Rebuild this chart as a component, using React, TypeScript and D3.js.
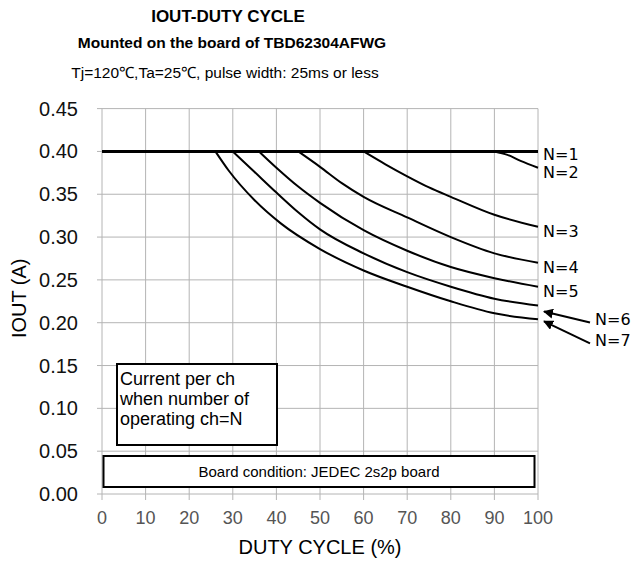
// App.tsx - IOUT vs DUTY CYCLE chart (TBD62304AFWG)

// react
import React from 'react';

// modules
import * as d3 from 'd3';

// data
const xTicks = [0, 10, 20, 30, 40, 50, 60, 70, 80, 90, 100];
const yTicks = [0, 0.05, 0.1, 0.15, 0.2, 0.25, 0.3, 0.35, 0.4, 0.45];

const seriesNames = ['N=1', 'N=2', 'N=3', 'N=4', 'N=5', 'N=6', 'N=7'];
const dutyN1 = [0, 100];
const ioutN1 = [0.4, 0.4];
const dutyN2 = [90, 93, 96, 100];
const ioutN2 = [0.4, 0.396, 0.389, 0.381];
const dutyN3 = [60, 65, 70, 75, 80, 90, 100];
const ioutN3 = [0.4, 0.385, 0.371, 0.358, 0.347, 0.326, 0.312];
const dutyN4 = [45, 50, 55, 60, 70, 80, 90, 100];
const ioutN4 = [0.4, 0.382, 0.363, 0.347, 0.323, 0.3, 0.281, 0.27];
const dutyN5 = [36, 40, 45, 50, 60, 70, 80, 90, 100];
const ioutN5 = [0.4, 0.381, 0.359, 0.34, 0.308, 0.284, 0.265, 0.252, 0.242];
const dutyN6 = [30, 35, 40, 45, 50, 60, 70, 80, 90, 100];
const ioutN6 = [0.4, 0.376, 0.352, 0.329, 0.309, 0.281, 0.259, 0.242, 0.228, 0.22];
const dutyN7 = [26, 29, 35, 41, 50, 60, 70, 80, 90, 100];
const ioutN7 = [0.4, 0.378, 0.343, 0.316, 0.286, 0.261, 0.242, 0.225, 0.211, 0.204];

const dutyArr = [dutyN1, dutyN2, dutyN3, dutyN4, dutyN5, dutyN6, dutyN7];
const ioutArr = [ioutN1, ioutN2, ioutN3, ioutN4, ioutN5, ioutN6, ioutN7];

const titleLines = ['IOUT-DUTY  CYCLE', 'Mounted on the board of TBD62304AFWG'];
const subTitle = 'Tj=120\u2103,Ta=25\u2103, pulse width: 25ms or less';
const noteLines = ['Current per ch', 'when number of', 'operating ch=N'];
const boardNote = 'Board condition: JEDEC 2s2p board';

const arial = '"Liberation Sans", Arial, sans-serif';
const dejavu = '"DejaVu Sans", Verdana, sans-serif';

// start
export default function App() {
    // scales
    const xScale = d3.scaleLinear().domain([0, 100]).range([102, 538]);
    const yScale = d3.scaleLinear().domain([0, 0.45]).range([494, 108.6]);

    const lineGen = d3.line<[number, number]>()
        .x((d) => xScale(d[0]))
        .y((d) => yScale(d[1]))
        .curve(d3.curveMonotoneX);

    const seriesData = seriesNames.map((name, i) => {
        return {name, pts: dutyArr[i].map((x, j) => [x, ioutArr[i][j]] as [number, number])};
    });

    const xMax = xScale(100);

    return (
        <div>
            <style>{`body{margin:0}`}</style>
            <svg width={636} height={562} style={{display: 'block', background: '#fff'}}>
                <defs>
                    <marker id="arrowHead" viewBox="0 0 10 10" refX={9} refY={5}
                        markerWidth={5} markerHeight={5} orient="auto">
                        <path d="M0,0 L10,5 L0,10 z" fill="#000" />
                    </marker>
                </defs>

                {/* titles */}
                <text x={228} y={22} textAnchor="middle" fontFamily={arial} fontWeight="bold" fontSize={17}>{titleLines[0]}</text>
                <text x={232} y={48} textAnchor="middle" fontFamily={arial} fontWeight="bold" fontSize={15.5}>{titleLines[1]}</text>
                <text x={225} y={78} textAnchor="middle" fontFamily={arial} fontSize={15.5}>{subTitle}</text>

                {/* grid */}
                <g stroke="#b4b4b4" strokeWidth={1}>
                    {yTicks.map((t) => (
                        <line key={'h' + t} x1={xScale(0) - 5} x2={xMax} y1={yScale(t)} y2={yScale(t)} />
                    ))}
                    {xTicks.map((t) => (
                        <line key={'v' + t} x1={xScale(t)} x2={xScale(t)} y1={yScale(0.45)} y2={yScale(0) + 6} />
                    ))}
                </g>

                {/* y tick labels */}
                {yTicks.map((t) => (
                    <text key={'yl' + t} x={78} y={yScale(t)} dy="0.35em" textAnchor="end"
                        fontFamily={arial} fontSize={20} fill="#111">{t.toFixed(2)}</text>
                ))}
                {/* x tick labels */}
                {xTicks.map((t) => (
                    <text key={'xl' + t} x={xScale(t)} y={524} textAnchor="middle"
                        fontFamily={arial} fontSize={18} fill="#555">{t}</text>
                ))}

                {/* axis titles */}
                <text transform={`translate(26,${(yScale(0) + yScale(0.45)) / 2 - 3}) rotate(-90)`} textAnchor="middle"
                    fontFamily={arial} fontSize={20}>IOUT (A)</text>
                <text x={320} y={554} textAnchor="middle" fontFamily={arial} fontSize={20}>DUTY CYCLE (%)</text>

                {/* note boxes */}
                <rect x={117} y={364} width={160} height={81} fill="#fff" stroke="#000" strokeWidth={2} />
                {noteLines.map((s, i) => (
                    <text key={s} x={120} y={385 + i * 20} fontFamily={arial} fontSize={18}>{s}</text>
                ))}
                <rect x={103.5} y={456} width={431} height={31} fill="#fff" stroke="#000" strokeWidth={2} />
                <text x={319} y={477} textAnchor="middle" fontFamily={arial} fontSize={15}>{boardNote}</text>

                {/* curves */}
                {seriesData.map((s, i) => (
                    <path key={s.name} d={lineGen(s.pts) || ''} fill="none" stroke="#000"
                        strokeWidth={i === 0 ? 3 : 2} strokeLinejoin="round" />
                ))}

                {/* labels N=1..N=5 at curve ends */}
                {seriesData.slice(0, 5).map((s, i) => (
                    <text key={'lb' + s.name} x={xMax + 5} y={yScale(s.pts[s.pts.length - 1][1]) + (i === 0 ? 3 : 5)} dy="0.35em"
                        fontFamily={dejavu} fontSize={16}>{s.name}</text>
                ))}

                {/* labels N=6, N=7 with arrows */}
                {seriesData.slice(5).map((s, i) => {
                    const endY = yScale(s.pts[s.pts.length - 1][1]);
                    const tipY = endY + (i === 0 ? 6 : 2);
                    const tailY = endY + (i === 0 ? 17 : 24);
                    return (
                        <g key={'ar' + s.name}>
                            <line x1={xMax + 52} y1={tailY} x2={xMax + 6} y2={tipY} stroke="#000" strokeWidth={2}
                                markerEnd="url(#arrowHead)" />
                            <text x={xMax + 57} y={tailY - 3} dy="0.35em" fontFamily={dejavu} fontSize={16}>{s.name}</text>
                        </g>
                    );
                })}
            </svg>
        </div>
    );
}
